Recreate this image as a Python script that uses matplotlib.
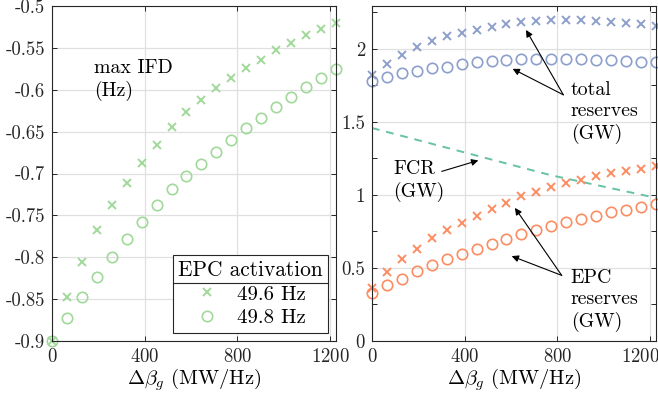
import matplotlib
matplotlib.use("Agg")
import matplotlib.pyplot as plt
import matplotlib.transforms as mtransforms
from matplotlib.lines import Line2D

plt.rcParams['font.family'] = 'cmr10'
plt.rcParams['mathtext.fontset'] = 'cm'
plt.rcParams['axes.formatter.use_mathtext'] = True
plt.rcParams['font.size'] = 14

# gain change (MW/Hz)
dbeta = [0, 64.5, 129, 193.5, 258, 322.5, 387, 451.5, 516, 580.5,
         645, 709.5, 774, 838.5, 903, 967.5, 1032, 1096.5, 1161, 1225.5]

# max IFD (Hz) for each EPC activation threshold
ifd_496 = [-0.900, -0.848, -0.806, -0.768, -0.738, -0.711, -0.687, -0.666, -0.645, -0.627,
           -0.612, -0.598, -0.586, -0.574, -0.564, -0.553, -0.544, -0.535, -0.527, -0.520]
ifd_498 = [-0.900, -0.872, -0.847, -0.823, -0.800, -0.778, -0.758, -0.738, -0.719, -0.703,
           -0.689, -0.674, -0.660, -0.646, -0.634, -0.621, -0.609, -0.597, -0.586, -0.575]

# reserves (GW)
total_496 = [1.822, 1.897, 1.958, 2.011, 2.054, 2.088, 2.111, 2.129, 2.152, 2.170,
             2.182, 2.191, 2.197, 2.197, 2.197, 2.193, 2.186, 2.179, 2.168, 2.156]
total_498 = [1.781, 1.810, 1.833, 1.851, 1.867, 1.878, 1.895, 1.908, 1.917, 1.924,
             1.929, 1.931, 1.931, 1.931, 1.929, 1.924, 1.922, 1.917, 1.913, 1.908]
epc_496 = [0.365, 0.471, 0.558, 0.633, 0.702, 0.763, 0.809, 0.859, 0.904, 0.945,
           0.990, 1.018, 1.052, 1.082, 1.105, 1.127, 1.150, 1.166, 1.180, 1.195]
epc_498 = [0.326, 0.380, 0.426, 0.478, 0.517, 0.558, 0.597, 0.631, 0.665, 0.699,
           0.729, 0.758, 0.786, 0.813, 0.836, 0.859, 0.881, 0.900, 0.918, 0.941]
fcr = [1.458, 1.431, 1.404, 1.377, 1.350, 1.323, 1.296, 1.269, 1.242, 1.215,
       1.188, 1.161, 1.134, 1.112, 1.090, 1.068, 1.046, 1.024, 1.002, 0.980]

legend_labels = ['49.6 Hz', '49.8 Hz']
green = '#a1d99b'
blue = '#8da0cb'
orange = '#fc8d62'
teal = '#66c2a5'

fig = plt.figure(figsize=(6.58, 3.96), dpi=100)
ax1 = fig.add_axes([52/658, 55/396, 284/658, 335/396])
ax2 = fig.add_axes([372/658, 55/396, 284/658, 335/396])

def style(ax):
    ax.grid(True, color='#e0e0e0', lw=0.9)
    ax.set_axisbelow(True)
    ax.tick_params(direction='in', length=3.5, width=0.7, top=True, right=True,
                   pad=5, colors='#262626', labelsize=13.5)
    for s in ax.spines.values():
        s.set_color('#262626')
        s.set_linewidth(0.8)
    ax.set_xlim(0, 1226)
    ax.set_xticks([0, 400, 800, 1200])
    ax.set_xlabel(r'$\Delta\beta_g$ (MW/Hz)', fontsize=14.8, labelpad=0)

# left: max IFD
ax1.plot(dbeta, ifd_496, 'x', color=green, ms=5.5, mew=1.4, clip_on=False)
ax1.plot(dbeta, ifd_498, 'o', color=green, mfc='none', ms=7.5, mew=1.2, clip_on=False)
style(ax1)
ax1.set_ylim(-0.9, -0.5)
yt = [-0.9, -0.85, -0.8, -0.75, -0.7, -0.65, -0.6, -0.55, -0.5]
ax1.set_yticks(yt, ['%g' % v for v in yt])
ax1.text(181, -0.563, 'max IFD\n(Hz)', ha='left', va='top', linespacing=1.25, fontsize=14.3)

handles = [Line2D([], [], ls='none', marker='x', color=green, ms=5.5, mew=1.4),
           Line2D([], [], ls='none', marker='o', color=green, mfc='none', ms=7.5, mew=1.2)]
leg = ax1.legend(handles, legend_labels, title='EPC activation', loc='lower right',
                 fancybox=False, framealpha=1, edgecolor='#262626', fontsize=15,
                 title_fontsize=15.4, borderaxespad=0.4, handlelength=1.2,
                 handletextpad=0.8, borderpad=0.25, labelspacing=0.25)
leg.get_frame().set_linewidth(0.8)
leg._legend_box.align = 'center'

# right: reserves
ax2.plot(dbeta, fcr, '--', color=teal, lw=1.4, dashes=(4, 3.5))
ax2.plot(dbeta, total_496, 'x', color=blue, ms=5.5, mew=1.4, clip_on=False)
ax2.plot(dbeta, total_498, 'o', color=blue, mfc='none', ms=7.5, mew=1.2, clip_on=False)
ax2.plot(dbeta, epc_496, 'x', color=orange, ms=5.5, mew=1.4, clip_on=False)
ax2.plot(dbeta, epc_498, 'o', color=orange, mfc='none', ms=7.5, mew=1.2, clip_on=False)
style(ax2)
ax2.set_ylim(0, 2.293)
yt2 = [0, 0.5, 1, 1.5, 2]
ax2.set_yticks(yt2, ['%g' % v for v in yt2])
ax2.set_yticks([0.25, 0.75, 1.25, 1.75, 2.25], minor=True)
ax2.tick_params(which='minor', direction='in', length=3.5, width=0.7, right=True, colors='#262626')
# keep the last x tick label inside the figure
last = ax2.get_xticklabels()[-1]
last.set_transform(last.get_transform() + mtransforms.ScaledTranslation(-10/100, 0, fig.dpi_scale_trans))

arr = dict(arrowstyle='-|>', color='k', lw=0.8, mutation_scale=10, shrinkA=0, shrinkB=0)
ax2.text(858, 1.78, 'total\nreserves\n(GW)', ha='left', va='top', linespacing=1.25, fontsize=14.3)
ax2.annotate('', xy=(665, 2.129), xytext=(826, 1.685), arrowprops=arr)
ax2.annotate('', xy=(607, 1.863), xytext=(826, 1.685), arrowprops=arr)
ax2.text(92, 1.235, 'FCR\n(GW)', ha='left', va='top', linespacing=1.25, fontsize=14.3)
ax2.annotate('', xy=(459, 1.236), xytext=(301, 1.161), arrowprops=arr)
ax2.text(858, 0.495, 'EPC\nreserves\n(GW)', ha='left', va='top', linespacing=1.25, fontsize=14.3)
ax2.annotate('', xy=(617, 0.911), xytext=(819, 0.449), arrowprops=arr)
ax2.annotate('', xy=(603, 0.581), xytext=(819, 0.449), arrowprops=arr)

# separator line under legend title
fig.canvas.draw()
fb = leg.get_frame().get_window_extent()
tb = leg.get_title().get_window_extent()
ysep = tb.y0 - 3
fig.add_artist(Line2D([fb.x0, fb.x1], [ysep, ysep], transform=None,
                      color='#262626', lw=0.8))

fig.savefig('out.png', dpi=100)
